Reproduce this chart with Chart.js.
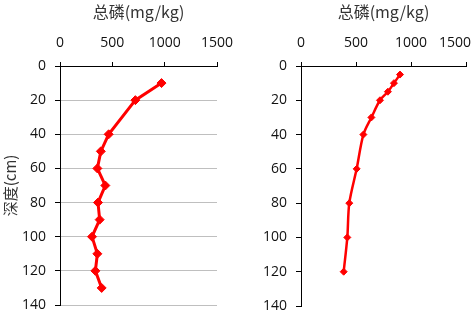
<!DOCTYPE html>
<html>
<head>
<meta charset="utf-8">
<script src="https://cdn.jsdelivr.net/npm/chart.js@4/dist/chart.umd.min.js"></script>
<style>
  html, body { margin: 0; padding: 0; background: #fff; }
  #wrap { position: relative; width: 472px; height: 314px; overflow: hidden; }
  canvas { position: absolute; top: 0; }
  #c1 { left: 0; }
  #c2 { left: 240px; }
</style>
</head>
<body>
<div id="wrap">
  <canvas id="c1" width="240" height="314"></canvas>
  <canvas id="c2" width="232" height="314"></canvas>
</div>
<script>
// ---- data ----
const xTitle = '总磷(mg/kg)';
const yTitle = '深度(cm)';
const xTicks = [0, 500, 1000, 1500];
const yTicks = [0, 20, 40, 60, 80, 100, 120, 140];

const leftDepth = [10, 20, 40, 50, 60, 70, 80, 90, 100, 110, 120, 130];
const leftTP    = [970, 720, 465, 390, 357, 433, 363, 379, 306, 357, 338, 398];

const rightDepth = [5, 10, 15, 20, 30, 40, 60, 80, 100, 120];
const rightTP    = [900, 845, 790, 718, 640, 567, 506, 439, 421, 388];

// ---- styling ----
const tickFont = { family: '"Open Sans", "Liberation Sans", sans-serif', size: 14 };
const xTitleFont = { family: '"Noto Sans CJK SC", "Noto Sans", sans-serif', size: 16 };
const yTitleFont = { family: '"Noto Sans CJK SC", "Noto Sans", sans-serif', size: 15 };
const textColor = '#111';
const red = '#FF0000';

const keepLabelsInside = {
  id: 'keepLabelsInside',
  beforeDraw(chart) {
    const sc = chart.scales.x;
    const items = sc.getLabelItems();
    const ctx = chart.ctx;
    items.forEach(it => {
      ctx.save();
      ctx.font = it.font.string;
      const w = ctx.measureText(String(it.label)).width;
      ctx.restore();
      const maxX = chart.width - w / 2 - 1;
      if (it.options.translation[0] > maxX) it.options.translation[0] = maxX;
    });
  }
};

function makeChart(id, depth, tp, opts) {
  const pts = depth.map((d, i) => ({ x: tp[i], y: d }));
  return new Chart(document.getElementById(id), {
    type: 'scatter',
    data: {
      datasets: [{
        data: pts,
        showLine: true,
        borderColor: red,
        backgroundColor: red,
        borderWidth: opts.lineWidth,
        pointStyle: 'rectRot',
        pointRadius: opts.pointRadius,
        pointBorderWidth: 1,
        pointBorderColor: red,
        pointBackgroundColor: red,
        tension: opts.tension
      }]
    },
    options: {
      responsive: false,
      animation: false,
      devicePixelRatio: 1,
      layout: { padding: { left: 0, top: 0, right: opts.padRight, bottom: opts.padBottom } },
      plugins: { legend: { display: false }, tooltip: { enabled: false } },
      scales: {
        x: {
          type: 'linear',
          position: 'top',
          min: 0, max: 1500,
          afterBuildTicks: s => { s.ticks = xTicks.map(v => ({ value: v })); },
          ticks: { font: tickFont, color: textColor, padding: 11, maxRotation: 0, callback: v => String(v) },
          grid: { drawOnChartArea: false, drawTicks: true, tickLength: 4, tickColor: '#000' },
          border: { color: '#000', width: 1 },
          title: { display: true, text: xTitle, font: xTitleFont, color: '#333', padding: { top: 2, bottom: 0 } },
          afterFit: s => { s.height = 66; s.paddingLeft = 0; s.paddingRight = 0; }
        },
        y: {
          type: 'linear',
          reverse: true,
          min: 0, max: 140,
          afterBuildTicks: s => { s.ticks = yTicks.map(v => ({ value: v })); },
          ticks: { font: tickFont, color: textColor, padding: 9, callback: v => String(v) },
          grid: {
            drawOnChartArea: opts.grid,
            color: c => (c.tick && c.tick.value === 0) ? 'rgba(0,0,0,0)' : '#BFBFBF',
            tickColor: '#000',
            tickLength: 5
          },
          border: { color: '#000', width: 1 },
          title: { display: opts.showYTitle, text: yTitle, font: yTitleFont, color: '#333', padding: { top: 1, bottom: 0 } },
          afterFit: s => { s.width = opts.yWidth; s.paddingTop = 0; s.paddingBottom = 0; }
        }
      }
    },
    plugins: [keepLabelsInside]
  });
}

makeChart('c1', leftDepth, leftTP, {
  lineWidth: 3, pointRadius: 4.5, tension: 0, grid: true, showYTitle: true,
  yWidth: 60, padRight: 23, padBottom: 9
});
makeChart('c2', rightDepth, rightTP, {
  lineWidth: 2.5, pointRadius: 3.5, tension: 0.3, grid: false, showYTitle: false,
  yWidth: 61, padRight: 6, padBottom: 8
});
</script>
</body>
</html>
